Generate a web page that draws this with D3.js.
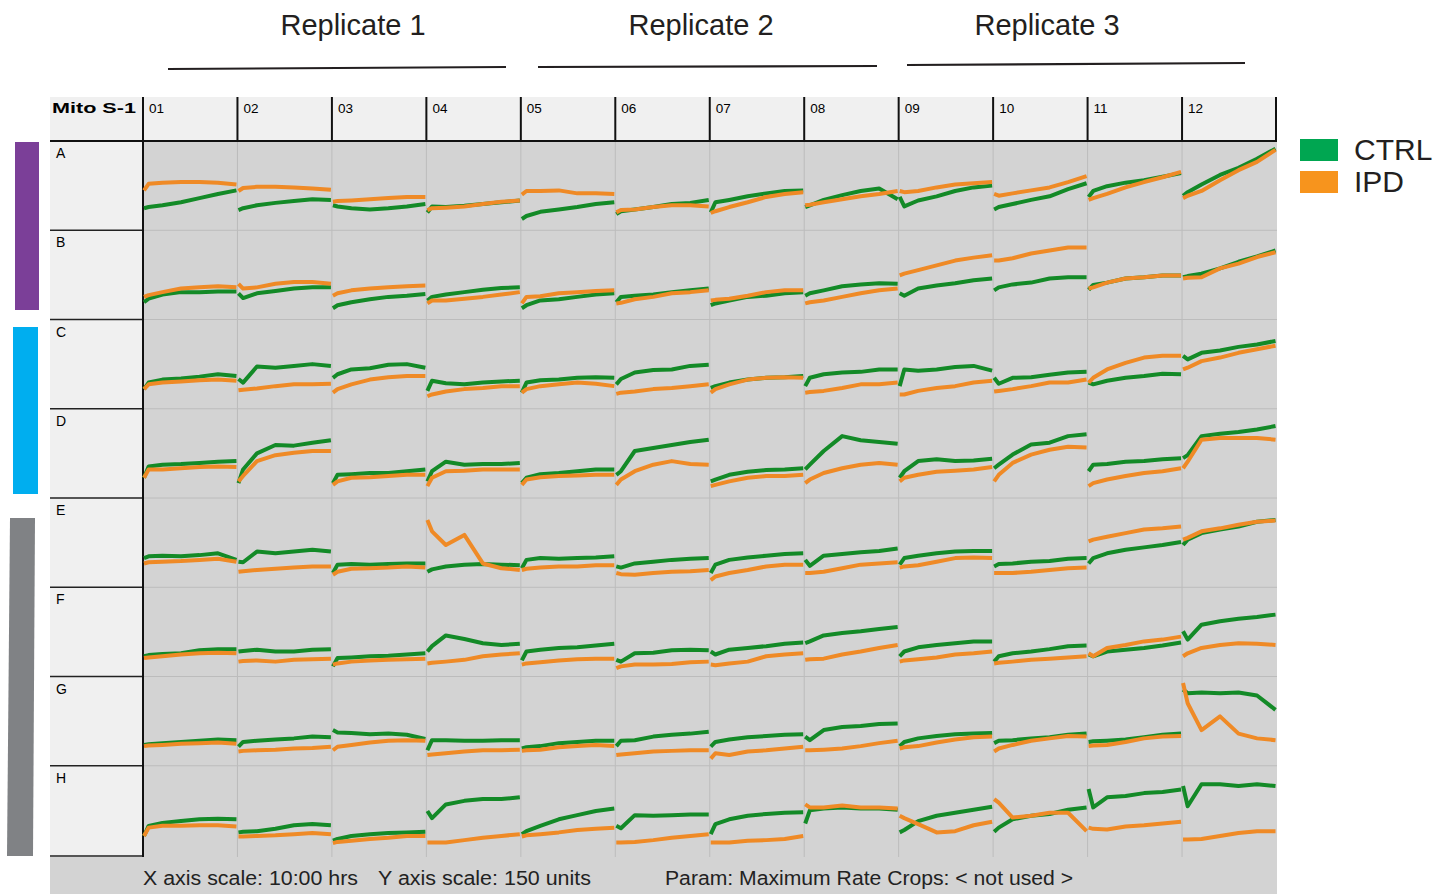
<!DOCTYPE html>
<html><head><meta charset="utf-8">
<script src="https://cdn.jsdelivr.net/npm/d3@7"></script>
<style>body{margin:0;background:#fff}svg{display:block}</style>
</head><body><svg id="c" width="1455" height="894"></svg>
<script>
const rows = ["A","B","C","D","E","F","G","H"];
const cols = ["01","02","03","04","05","06","07","08","09","10","11","12"];
const times = [0, 0.5, 2, 4, 6, 8, 10];   // hours
const replicates = ["Replicate 1","Replicate 2","Replicate 3"];
const seriesNames = ["CTRL","IPD"];
const footerLeft = ["X axis scale: 10:00 hrs","Y axis scale: 150 units"];
const footerRight = "Param: Maximum Rate  Crops: < not used >";

// values (units, 0-150 per cell) at the times above, one array per well (columns 01..12)
const ctrlA = [[37,39,42,47,54,61,67],[34,37,42,46,49,52,51],[42,40,37,35,37,40,44],[30,40,39,41,44,47,50],[19,24,31,35,39,44,47],[27,32,35,39,44,46,51],[30,47,51,57,62,66,67],[39,42,51,59,66,70,52],[56,40,50,57,66,72,75],[35,39,44,51,57,69,79],[56,66,74,80,84,90,96],[58,64,77,93,105,120,137]];
const ipdA  = [[67,78,80,81,81,80,77],[66,71,73,73,72,70,68],[48,49,50,52,54,56,56],[34,37,38,40,44,48,50],[60,66,66,67,62,62,61],[30,34,35,39,42,42,40],[29,32,39,47,56,61,64],[42,43,47,52,57,61,66],[66,64,66,72,77,79,81],[61,58,62,67,72,81,91],[51,54,61,72,81,89,98],[54,58,66,84,101,115,135]];
const ctrlB = [[29,35,42,46,46,47,47],[44,36,44,48,52,54,54],[19,24,29,34,38,40,43],[32,38,42,46,50,53,54],[19,24,32,34,38,42,44],[29,38,40,42,46,49,52],[24,27,32,38,40,44,46],[40,44,49,56,59,61,60],[44,40,52,57,61,66,69],[49,54,59,62,69,71,71],[50,58,62,69,71,74,74],[71,73,77,86,97,106,116]];
const ipdB  = [[38,41,46,52,54,56,54],[60,52,54,60,63,63,60],[40,44,49,52,54,56,57],[27,32,32,35,38,42,46],[27,38,39,44,46,48,49],[27,28,34,38,44,46,49],[32,33,35,40,46,49,49],[27,29,32,38,44,49,52],[74,77,83,91,99,104,108],[99,99,103,111,116,121,121],[52,54,62,69,71,74,74],[69,70,71,86,94,105,113]];
const ctrlC = [[33,44,49,51,54,58,55],[50,44,71,69,72,75,72],[52,58,66,68,74,75,69],[30,47,43,41,44,46,47],[27,44,48,49,52,53,52],[41,50,61,65,66,72,74],[35,38,44,49,52,53,55],[38,52,58,61,62,66,66],[38,66,64,66,70,72,64],[52,42,52,53,57,61,62],[44,41,47,52,55,59,58],[89,83,94,98,104,108,114]];
const ipdC  = [[33,41,44,46,48,49,47],[31,32,34,38,41,41,42],[27,33,41,49,53,55,55],[21,24,29,33,35,38,38],[27,33,38,41,44,42,38],[25,27,29,33,35,38,41],[27,33,41,49,52,53,52],[27,28,30,35,41,41,44],[24,24,30,35,38,44,47],[29,30,33,38,44,44,49],[44,52,66,77,86,89,89],[66,69,80,86,94,100,106]];
const ctrlD = [[34,53,56,57,59,61,62],[25,48,75,89,88,93,97],[25,39,40,42,42,45,48],[28,45,61,56,57,57,59],[25,34,40,42,45,48,48],[39,45,79,84,89,94,98],[28,31,39,44,47,48,50],[48,56,79,104,97,94,91],[34,45,62,65,62,63,66],[50,56,73,90,93,104,107],[45,56,57,61,62,65,67],[67,72,104,108,111,115,121]];
const ipdD  = [[34,48,48,50,52,53,52],[28,37,62,72,76,79,79],[22,28,34,35,37,39,39],[20,34,45,46,48,48,48],[22,31,35,37,38,39,39],[22,31,45,56,62,57,56],[20,22,28,34,37,37,39],[25,31,42,50,56,59,56],[28,34,39,44,46,48,52],[28,39,59,73,81,86,85],[20,25,31,37,42,45,50],[50,61,98,101,101,101,98]];
const ctrlE = [[49,52,53,52,54,57,46],[43,42,60,57,60,63,60],[24,38,39,38,39,40,40],[26,30,35,38,39,38,37],[32,46,49,48,49,50,52],[35,33,40,43,46,48,49],[24,38,46,50,53,56,57],[46,36,53,56,59,61,65],[38,49,53,57,60,61,61],[35,39,40,43,44,48,49],[40,49,57,63,67,71,76],[71,80,91,97,102,110,113]];
const ipdE  = [[40,42,43,44,46,48,43],[26,27,29,31,33,35,35],[21,26,31,32,33,35,33],[113,94,71,88,40,32,29],[29,31,33,35,35,37,37],[24,22,21,24,26,27,29],[12,18,24,29,35,38,38],[24,24,26,32,38,40,42],[33,35,37,43,49,50,49],[24,24,24,26,29,32,33],[77,80,85,91,97,99,102],[80,83,94,99,105,110,112]];
const ctrlF = [[34,36,38,39,44,46,46],[42,43,45,42,42,45,46],[17,31,32,34,35,37,39],[42,51,69,63,56,53,55],[27,42,45,48,49,52,55],[28,25,39,40,44,45,44],[42,37,45,48,51,55,57],[56,59,69,73,76,80,83],[34,42,49,53,56,59,59],[25,34,39,42,46,51,52],[37,34,42,45,48,52,57],[76,62,87,93,97,100,104]];
const ipdF  = [[31,32,34,37,39,40,39],[25,26,27,25,28,29,30],[20,22,25,27,28,29,30],[22,23,25,28,34,37,39],[20,22,24,27,29,30,30],[14,17,20,20,21,24,25],[20,19,22,25,34,37,39],[28,29,30,37,42,48,53],[25,27,29,32,37,39,42],[22,23,25,28,30,32,34],[39,34,48,53,59,62,67],[34,39,48,53,56,55,53]];
const ctrlG = [[35,36,38,40,42,44,43],[32,40,42,44,46,49,48],[60,56,55,53,54,52,45],[26,43,43,42,42,43,43],[29,31,33,38,40,42,42],[33,42,43,49,52,54,57],[32,40,44,48,50,52,53],[49,43,60,65,67,70,71],[33,40,46,50,53,54,55],[38,42,43,46,48,52,54],[40,41,42,44,48,52,54],[128,122,123,122,123,118,94]];
const ipdG  = [[33,34,35,37,38,39,37],[24,25,26,27,29,30,32],[26,32,35,39,42,43,42],[18,19,21,24,26,26,27],[25,26,27,31,33,35,33],[18,19,21,24,25,26,26],[12,21,18,24,26,29,32],[26,26,27,29,33,38,42],[29,31,33,39,44,48,49],[24,29,35,42,46,50,49],[33,34,35,40,46,49,50],[139,105,60,83,54,46,43]];
const ctrlH = [[32,49,54,57,60,61,60],[38,39,40,44,50,52,50],[24,27,32,35,37,38,39],[74,62,85,91,94,94,97],[35,40,49,60,67,74,78],[49,45,67,66,67,68,68],[35,52,60,66,69,71,72],[53,75,78,80,78,78,76],[38,42,57,66,71,76,81],[39,46,60,66,69,76,80],[111,80,97,99,104,106,110],[116,82,119,119,116,119,116]];
const ipdH  = [[32,46,49,49,50,50,48],[31,31,32,33,35,37,35],[20,22,24,27,29,32,32],[21,21,21,25,29,32,35],[31,33,35,38,42,44,46],[21,21,22,25,29,32,35],[21,21,21,24,25,27,32],[85,80,80,83,80,80,78],[66,62,52,38,40,50,56],[94,88,63,66,71,71,40],[46,44,43,48,50,53,56],[26,26,27,32,37,40,40]];

const ctrlRows = [ctrlA,ctrlB,ctrlC,ctrlD,ctrlE,ctrlF,ctrlG,ctrlH];
const ipdRows  = [ipdA,ipdB,ipdC,ipdD,ipdE,ipdF,ipdG,ipdH];

const svg = d3.select("#c");
const F = "'Liberation Sans', Arial, sans-serif";
const colour = {CTRL:"#138a27", IPD:"#ef8a26"};
const legendColour = {CTRL:"#00a651", IPD:"#f7941d"};

const x = d3.scaleBand().domain(cols).range([143, 1276.5]);
const y = d3.scaleBand().domain(rows).range([141, 855]);
const tx = d3.scaleLinear().domain([0, 10]).range([1, x.bandwidth() - 1]);
const vy = d3.scaleLinear().domain([0, 150]).range([y.bandwidth(), 0]);

// backgrounds
svg.append("rect").attr("x",50).attr("y",97).attr("width",1227).attr("height",44).attr("fill","#f0f0f0");
svg.append("rect").attr("x",50).attr("y",141).attr("width",93).attr("height",716).attr("fill","#f0f0f0");
svg.append("rect").attr("x",143).attr("y",141).attr("width",1134).attr("height",716).attr("fill","#d3d3d3");
svg.append("rect").attr("x",50).attr("y",857).attr("width",1227).attr("height",37).attr("fill","#d3d3d3");

// grid inside plot
const g = svg.append("g");
cols.forEach(c => g.append("line").attr("x1",x(c)).attr("x2",x(c)).attr("y1",141).attr("y2",857).attr("stroke","#bcbcbc").attr("stroke-width",1));
rows.forEach(r => g.append("line").attr("x1",143).attr("x2",1277).attr("y1",y(r)).attr("y2",y(r)).attr("stroke","#bcbcbc").attr("stroke-width",1));

// left label column separators
rows.slice(1).concat(["end"]).forEach(r => {
  const yy = r === "end" ? 856 : y(r);
  svg.append("line").attr("x1",50).attr("x2",143).attr("y1",yy).attr("y2",yy).attr("stroke","#222").attr("stroke-width",1.5);
});
// header separators
cols.forEach(c => svg.append("line").attr("x1",x(c)).attr("x2",x(c)).attr("y1",97).attr("y2",141).attr("stroke","#111").attr("stroke-width",2));
svg.append("line").attr("x1",1276).attr("x2",1276).attr("y1",97).attr("y2",141).attr("stroke","#111").attr("stroke-width",2);
svg.append("line").attr("x1",143).attr("x2",143).attr("y1",97).attr("y2",857).attr("stroke","#111").attr("stroke-width",2);
svg.append("line").attr("x1",50).attr("x2",1277).attr("y1",141).attr("y2",141).attr("stroke","#111").attr("stroke-width",2);

// header texts
svg.append("text").attr("x",52).attr("y",113).attr("font-family",F).attr("font-weight","bold").attr("font-size",15)
  .attr("textLength",84).attr("lengthAdjust","spacingAndGlyphs").text("Mito S-1");
cols.forEach(c => svg.append("text").attr("x",x(c)+6).attr("y",113).attr("font-family",F).attr("font-size",13.5).text(c));
rows.forEach(r => svg.append("text").attr("x",56).attr("y",y(r)+17).attr("font-family",F).attr("font-size",14).text(r));

// traces
const line = d3.line().x(d => d[0]).y(d => d[1]);
const traces = svg.append("g");
[["CTRL", ctrlRows], ["IPD", ipdRows]].forEach(([name, data]) => {
  rows.forEach((r, ri) => {
    cols.forEach((c, ci) => {
      const vals = data[ri][ci];
      const pts = vals.map((v, k) => [x(c) + tx(times[k]), y(r) + vy(v)]);
      traces.append("path").attr("d", line(pts)).attr("fill","none")
        .attr("stroke", colour[name]).attr("stroke-width", 4)
        .attr("stroke-linejoin","round");
    });
  });
});

// footer
const ff = "'Liberation Sans Narrow', 'Liberation Sans', Arial, sans-serif";
svg.append("text").attr("x",143).attr("y",885).attr("font-family",ff).attr("font-size",20).attr("fill","#222")
  .attr("textLength",215).attr("lengthAdjust","spacingAndGlyphs").text(footerLeft[0]);
svg.append("text").attr("x",378).attr("y",885).attr("font-family",ff).attr("font-size",20).attr("fill","#222")
  .attr("textLength",213).attr("lengthAdjust","spacingAndGlyphs").text(footerLeft[1]);
svg.append("text").attr("x",665).attr("y",885).attr("font-family",ff).attr("font-size",20).attr("fill","#222")
  .attr("textLength",408).attr("lengthAdjust","spacingAndGlyphs").text(footerRight);

// replicate titles and bars
const repCx = [353, 701, 1047];
const repLines = [[168,69,506,67],[538,67,877,66],[907,65,1245,63]];
replicates.forEach((t,i) => {
  svg.append("text").attr("x",repCx[i]).attr("y",35).attr("text-anchor","middle").attr("font-family",F)
    .attr("font-size",29).attr("fill","#231f20").text(t);
  const l = repLines[i];
  svg.append("line").attr("x1",l[0]).attr("y1",l[1]).attr("x2",l[2]).attr("y2",l[3]).attr("stroke","#231f20").attr("stroke-width",2.2);
});

// left group bars
svg.append("rect").attr("x",15).attr("y",142).attr("width",24).attr("height",168).attr("fill","#7b3f98");
svg.append("rect").attr("x",13).attr("y",327).attr("width",25).attr("height",167).attr("fill","#00aeef");
svg.append("polygon").attr("points","10,518 35,518 33,856 7,856").attr("fill","#808285");

// legend
seriesNames.forEach((s,i) => {
  svg.append("rect").attr("x",1300).attr("y",139 + i*32).attr("width",38).attr("height",22).attr("fill",legendColour[s]);
  svg.append("text").attr("x",1354).attr("y",160 + i*32).attr("font-family",F).attr("font-size",30).attr("fill","#231f20").text(s);
});
</script></body></html>
